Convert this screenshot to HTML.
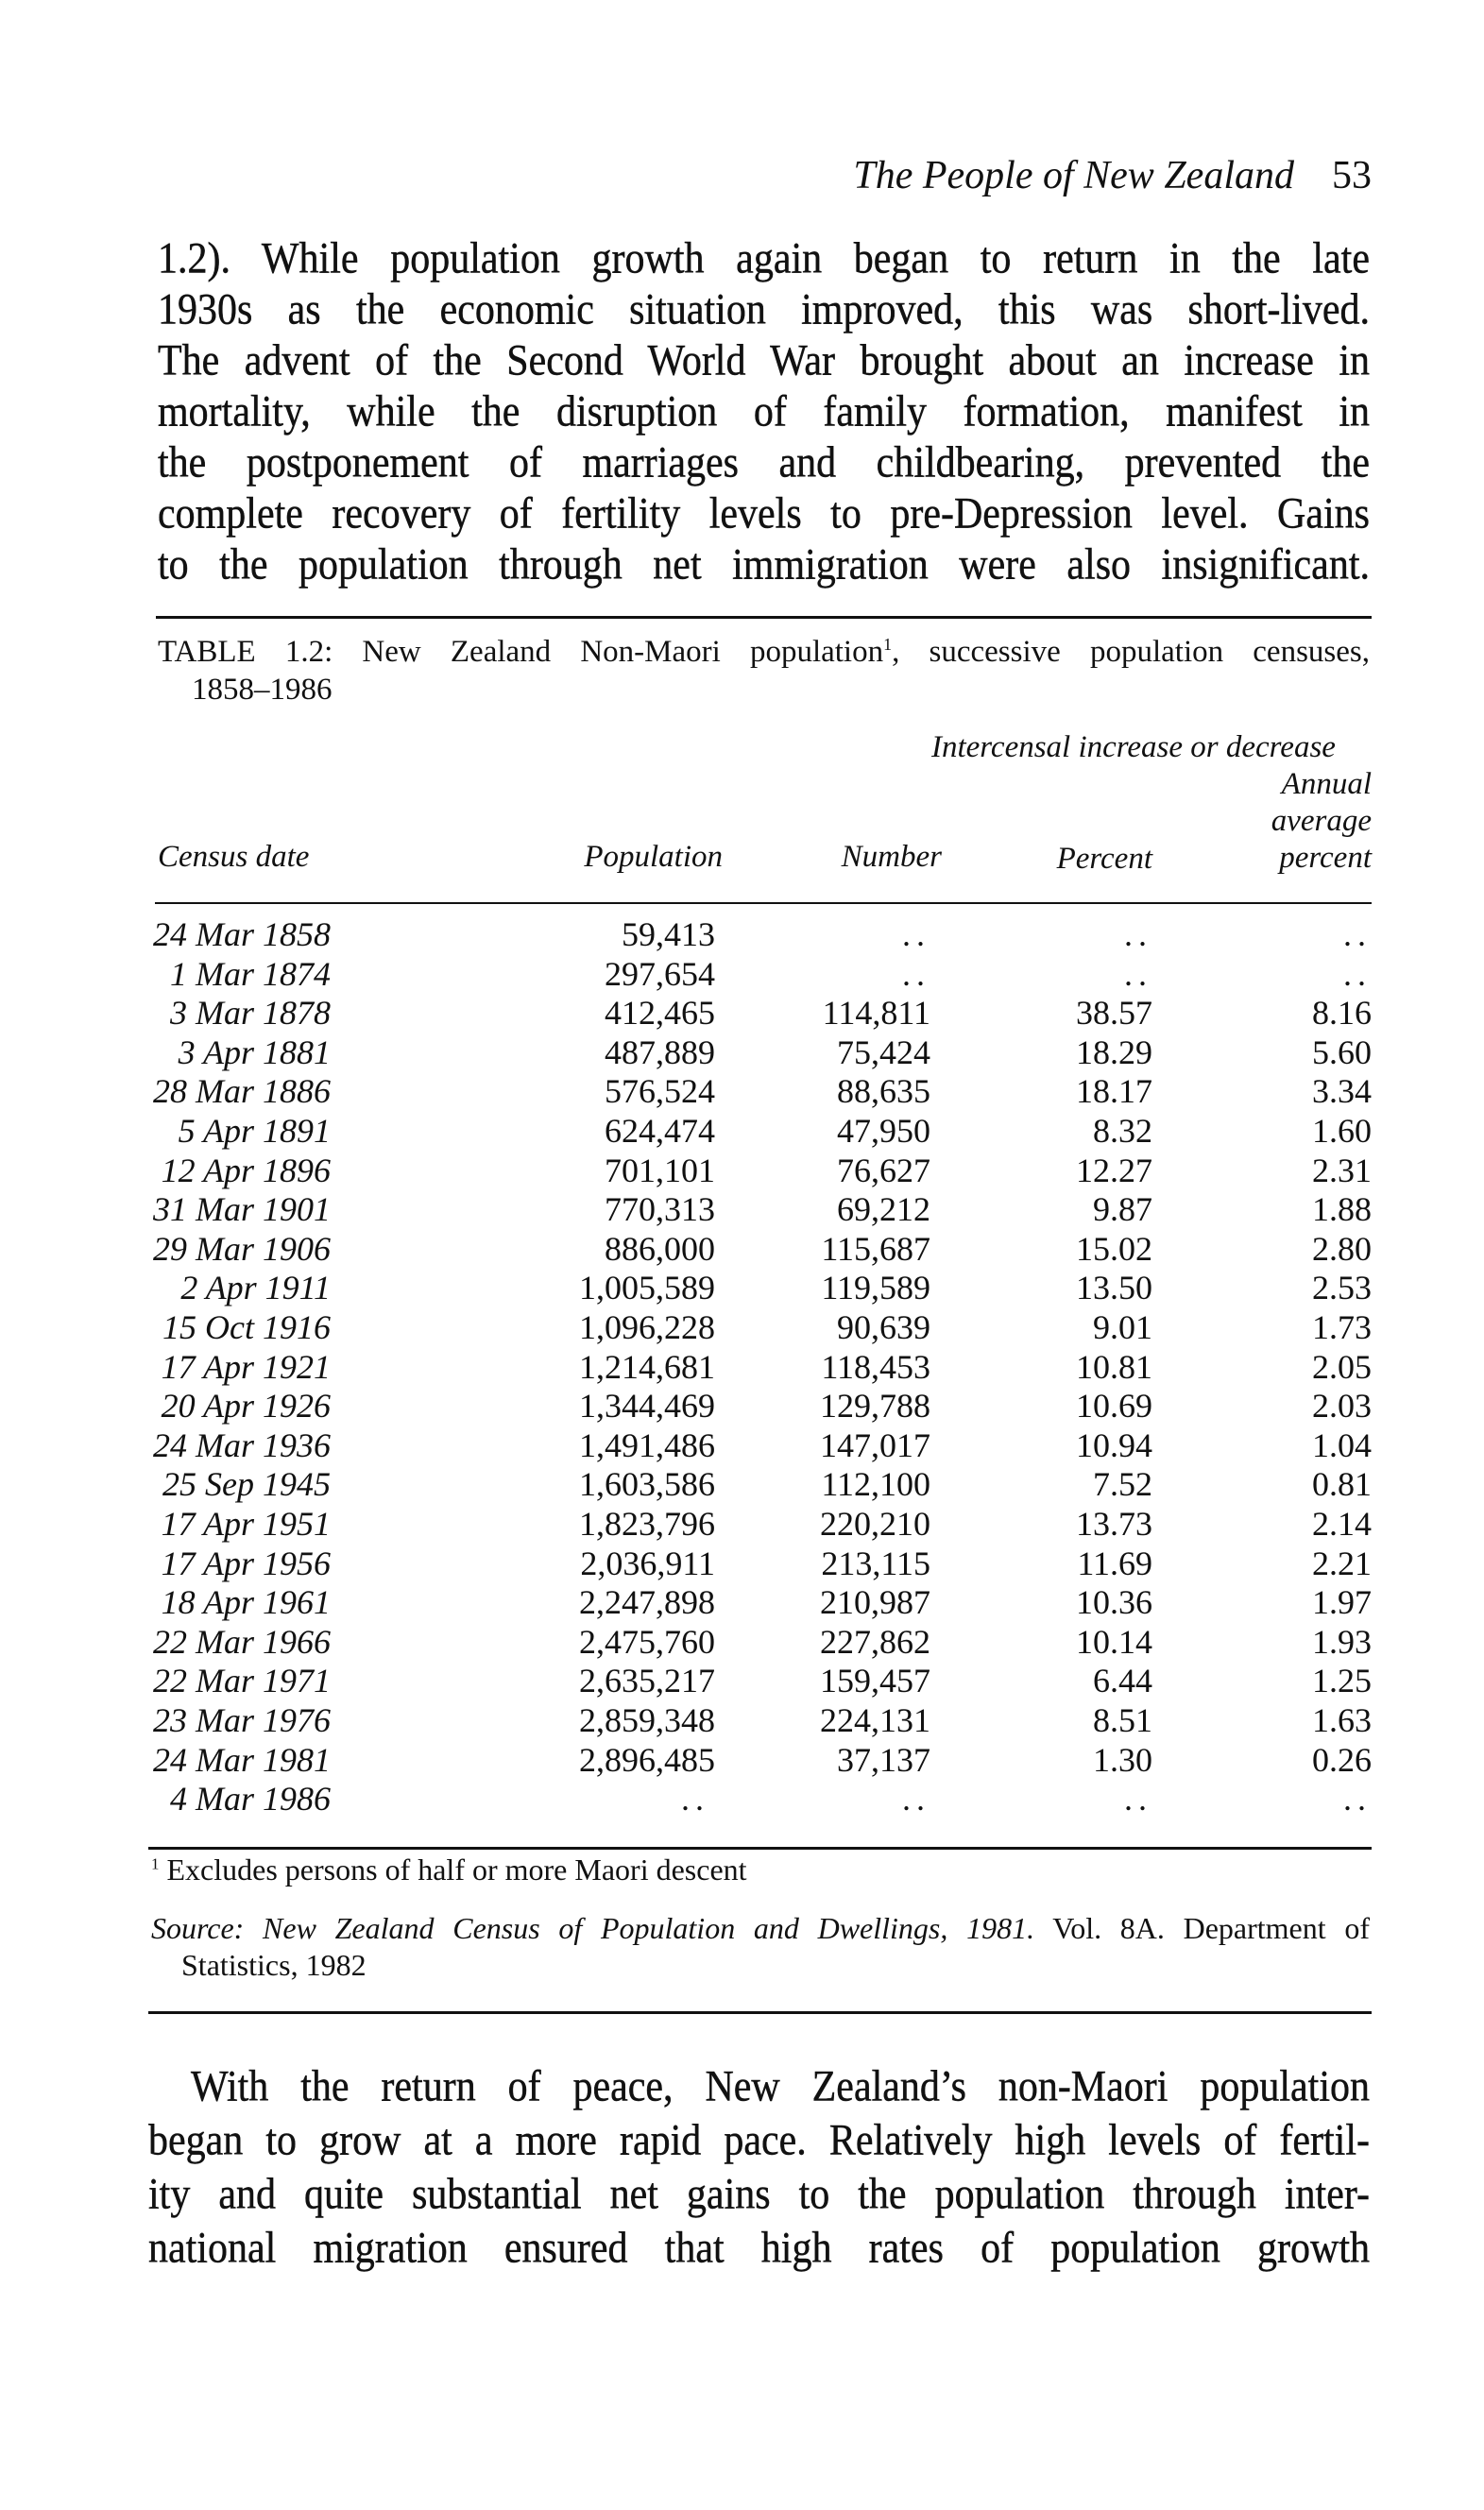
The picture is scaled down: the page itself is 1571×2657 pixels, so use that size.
<!DOCTYPE html>
<html><head><meta charset="utf-8">
<style>
html,body{margin:0;padding:0;background:#fff;}
body{width:1571px;height:2657px;position:relative;overflow:hidden;font-family:"Liberation Serif",serif;color:#111;}
.a{position:absolute;white-space:nowrap;}
.p{position:absolute;left:167px;width:1283px;font-size:42px;height:54px;line-height:54px;text-align:justify;text-align-last:justify;overflow:hidden;-webkit-text-stroke:0.4px #111;}
.p span.t{display:block;transform:scaleY(1.12);}
.rule{position:absolute;background:#111;}
.row{position:absolute;left:0;width:1571px;height:41.6px;line-height:41.6px;font-size:36px;}
.row span{position:absolute;top:0;white-space:nowrap;}
.d{right:1221px;font-style:italic;}
.c1{right:814px;}
.c2{right:586px;}
.c3{right:351px;}
.c4{right:119px;}
.dots{letter-spacing:6px;}
.i{font-style:italic;}
</style></head><body>

<div class="a i" style="right:201px;top:165px;font-size:42px;line-height:42px;">The People of New Zealand</div>
<div class="a" style="right:119px;top:165px;font-size:42px;line-height:42px;">53</div>

<div class="p" style="top:247px;"><span class="t">1.2). While population growth again began to return in the late</span></div>
<div class="p" style="top:301px;"><span class="t">1930s as the economic situation improved, this was short-lived.</span></div>
<div class="p" style="top:355px;"><span class="t">The advent of the Second World War brought about an increase in</span></div>
<div class="p" style="top:409px;"><span class="t">mortality, while the disruption of family formation, manifest in</span></div>
<div class="p" style="top:463px;"><span class="t">the postponement of marriages and childbearing, prevented the</span></div>
<div class="p" style="top:517px;"><span class="t">complete recovery of fertility levels to pre-Depression level. Gains</span></div>
<div class="p" style="top:571px;"><span class="t">to the population through net immigration were also insignificant.</span></div>

<div class="rule" style="left:165px;top:652px;width:1287px;height:3px;"></div>

<div class="a" style="left:167px;width:1283px;top:674px;font-size:33px;line-height:33px;text-align:justify;text-align-last:justify;">TABLE 1.2: New Zealand Non-Maori population<sup style="font-size:18px;line-height:0">1</sup>, successive population censuses,</div>
<div class="a" style="left:203px;top:714px;font-size:33px;line-height:33px;">1858–1986</div>

<div class="a i" style="left:986px;top:775px;font-size:33px;line-height:33px;">Intercensal increase or decrease</div>
<div class="a i" style="right:119px;top:814px;font-size:33px;line-height:33px;">Annual</div>
<div class="a i" style="right:119px;top:853px;font-size:33px;line-height:33px;">average</div>
<div class="a i" style="right:119px;top:892px;font-size:33px;line-height:33px;">percent</div>
<div class="a i" style="left:167px;top:891px;font-size:33px;line-height:33px;">Census date</div>
<div class="a i" style="right:806px;top:891px;font-size:33px;line-height:33px;">Population</div>
<div class="a i" style="right:574px;top:891px;font-size:33px;line-height:33px;">Number</div>
<div class="a i" style="right:351px;top:893px;font-size:33px;line-height:33px;">Percent</div>

<div class="rule" style="left:164px;top:955px;width:1288px;height:2px;"></div>

<div style="position:absolute;left:0;top:969px;">
<div class="row" style="top:0px"><span class="d">24 Mar 1858</span><span class="c1">59,413</span><span class="c2 dots">..</span><span class="c3 dots">..</span><span class="c4 dots">..</span></div>
<div class="row" style="top:41.6px"><span class="d">1 Mar 1874</span><span class="c1">297,654</span><span class="c2 dots">..</span><span class="c3 dots">..</span><span class="c4 dots">..</span></div>
<div class="row" style="top:83.2px"><span class="d">3 Mar 1878</span><span class="c1">412,465</span><span class="c2">114,811</span><span class="c3">38.57</span><span class="c4">8.16</span></div>
<div class="row" style="top:124.8px"><span class="d">3 Apr 1881</span><span class="c1">487,889</span><span class="c2">75,424</span><span class="c3">18.29</span><span class="c4">5.60</span></div>
<div class="row" style="top:166.4px"><span class="d">28 Mar 1886</span><span class="c1">576,524</span><span class="c2">88,635</span><span class="c3">18.17</span><span class="c4">3.34</span></div>
<div class="row" style="top:208px"><span class="d">5 Apr 1891</span><span class="c1">624,474</span><span class="c2">47,950</span><span class="c3">8.32</span><span class="c4">1.60</span></div>
<div class="row" style="top:249.6px"><span class="d">12 Apr 1896</span><span class="c1">701,101</span><span class="c2">76,627</span><span class="c3">12.27</span><span class="c4">2.31</span></div>
<div class="row" style="top:291.2px"><span class="d">31 Mar 1901</span><span class="c1">770,313</span><span class="c2">69,212</span><span class="c3">9.87</span><span class="c4">1.88</span></div>
<div class="row" style="top:332.8px"><span class="d">29 Mar 1906</span><span class="c1">886,000</span><span class="c2">115,687</span><span class="c3">15.02</span><span class="c4">2.80</span></div>
<div class="row" style="top:374.4px"><span class="d">2 Apr 1911</span><span class="c1">1,005,589</span><span class="c2">119,589</span><span class="c3">13.50</span><span class="c4">2.53</span></div>
<div class="row" style="top:416px"><span class="d">15 Oct 1916</span><span class="c1">1,096,228</span><span class="c2">90,639</span><span class="c3">9.01</span><span class="c4">1.73</span></div>
<div class="row" style="top:457.6px"><span class="d">17 Apr 1921</span><span class="c1">1,214,681</span><span class="c2">118,453</span><span class="c3">10.81</span><span class="c4">2.05</span></div>
<div class="row" style="top:499.2px"><span class="d">20 Apr 1926</span><span class="c1">1,344,469</span><span class="c2">129,788</span><span class="c3">10.69</span><span class="c4">2.03</span></div>
<div class="row" style="top:540.8px"><span class="d">24 Mar 1936</span><span class="c1">1,491,486</span><span class="c2">147,017</span><span class="c3">10.94</span><span class="c4">1.04</span></div>
<div class="row" style="top:582.4px"><span class="d">25 Sep 1945</span><span class="c1">1,603,586</span><span class="c2">112,100</span><span class="c3">7.52</span><span class="c4">0.81</span></div>
<div class="row" style="top:624px"><span class="d">17 Apr 1951</span><span class="c1">1,823,796</span><span class="c2">220,210</span><span class="c3">13.73</span><span class="c4">2.14</span></div>
<div class="row" style="top:665.6px"><span class="d">17 Apr 1956</span><span class="c1">2,036,911</span><span class="c2">213,115</span><span class="c3">11.69</span><span class="c4">2.21</span></div>
<div class="row" style="top:707.2px"><span class="d">18 Apr 1961</span><span class="c1">2,247,898</span><span class="c2">210,987</span><span class="c3">10.36</span><span class="c4">1.97</span></div>
<div class="row" style="top:748.8px"><span class="d">22 Mar 1966</span><span class="c1">2,475,760</span><span class="c2">227,862</span><span class="c3">10.14</span><span class="c4">1.93</span></div>
<div class="row" style="top:790.4px"><span class="d">22 Mar 1971</span><span class="c1">2,635,217</span><span class="c2">159,457</span><span class="c3">6.44</span><span class="c4">1.25</span></div>
<div class="row" style="top:832px"><span class="d">23 Mar 1976</span><span class="c1">2,859,348</span><span class="c2">224,131</span><span class="c3">8.51</span><span class="c4">1.63</span></div>
<div class="row" style="top:873.6px"><span class="d">24 Mar 1981</span><span class="c1">2,896,485</span><span class="c2">37,137</span><span class="c3">1.30</span><span class="c4">0.26</span></div>
<div class="row" style="top:915.2px"><span class="d">4 Mar 1986</span><span class="c1 dots" style="right:820px">..</span><span class="c2 dots">..</span><span class="c3 dots">..</span><span class="c4 dots">..</span></div>
</div>

<div class="rule" style="left:157px;top:1955px;width:1295px;height:3px;"></div>

<div class="a" style="left:160px;top:1963px;font-size:32px;line-height:32px;"><sup style="font-size:17px;line-height:0">1</sup> Excludes persons of half or more Maori descent</div>
<div class="a" style="left:160px;width:1290px;top:2025px;font-size:32px;line-height:32px;text-align:justify;text-align-last:justify;"><span class="i">Source: New Zealand Census of Population and Dwellings, 1981.</span> Vol. 8A. Department of</div>
<div class="a" style="left:192px;top:2064px;font-size:32px;line-height:32px;">Statistics, 1982</div>

<div class="rule" style="left:157px;top:2129px;width:1295px;height:3px;"></div>

<div class="p" style="top:2182px;left:157px;width:1293px;"><span class="t"><span style="display:inline-block;width:45px"></span>With the return of peace, New Zealand’s non-Maori population</span></div>
<div class="p" style="top:2239px;left:157px;width:1293px;"><span class="t">began to grow at a more rapid pace. Relatively high levels of fertil-</span></div>
<div class="p" style="top:2296px;left:157px;width:1293px;"><span class="t">ity and quite substantial net gains to the population through inter-</span></div>
<div class="p" style="top:2353px;left:157px;width:1293px;"><span class="t">national migration ensured that high rates of population growth</span></div>

</body></html>
